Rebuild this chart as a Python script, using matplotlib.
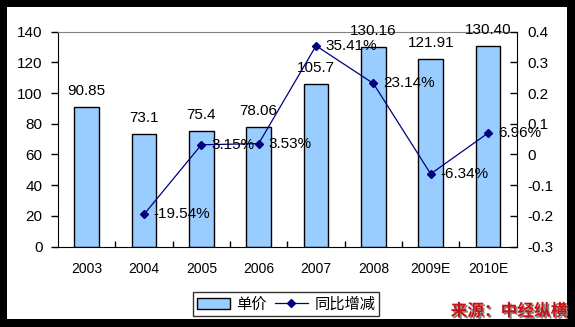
import matplotlib
matplotlib.use("Agg")
import matplotlib.pyplot as plt
import matplotlib.patheffects as pe
from matplotlib.patches import Rectangle
from matplotlib.lines import Line2D
from matplotlib.patches import Patch

plt.rcParams['font.family'] = ['Liberation Sans', 'Noto Sans CJK SC', 'DejaVu Sans']

years = ["2003", "2004", "2005", "2006", "2007", "2008", "2009E", "2010E"]
price = [90.85, 73.1, 75.4, 78.06, 105.7, 130.16, 121.91, 130.40]
price_labels = ["90.85", "73.1", "75.4", "78.06", "105.7", "130.16", "121.91", "130.40"]
growth_years = ["2004", "2005", "2006", "2007", "2008", "2009E", "2010E"]
growth = [-0.1954, 0.0315, 0.0353, 0.3541, 0.2314, -0.0634, 0.0696]
growth_labels = ["-19.54%", "3.15%", "3.53%", "35.41%", "23.14%", "-6.34%", "6.96%"]

W, H = 575, 327
fig = plt.figure(figsize=(W / 100, H / 100), dpi=100, facecolor="black")
# white panel inside the black frame
fig.patches.append(Rectangle((7 / W, 1 - 319 / H), (567 - 7) / W, (319 - 7) / H,
                             transform=fig.transFigure, facecolor="white",
                             edgecolor="none", zorder=-5))

ax = fig.add_axes([58 / W, 1 - 246.5 / H, (516.7 - 58) / W, (246.5 - 31.7) / H])
ax.set_facecolor("white")
x = list(range(len(years)))
ax.bar(x, price, width=0.43, color="#99CCFF", edgecolor="black", linewidth=1.0, zorder=2)
for xi, v, s in zip(x, price, price_labels):
    ax.annotate(s, (xi, v), xytext=(0, 6.5), textcoords="offset points",
                ha="center", va="bottom", fontsize=11, color="black", zorder=5,
                annotation_clip=False)

ax.set_xlim(-0.5, len(years) - 0.5)
ax.set_ylim(0, 140)
ax.set_yticks(range(0, 141, 20))
ax.set_xticks([i + 0.5 for i in range(len(years) - 1)])
ax.set_xticklabels([])
ax.set_xticks(x, minor=True)
ax.set_xticklabels(years, minor=True, fontsize=10)
ax.tick_params(axis="x", which="major", direction="in", length=4, width=1)
ax.tick_params(axis="x", which="minor", length=0, pad=11)
ax.tick_params(axis="y", direction="out", length=5, width=1, labelsize=11, pad=6)
ax.spines["top"].set_color("#808080")
ax.spines["right"].set_visible(False)
for s in ("left", "bottom"):
    ax.spines[s].set_color("black")

ax2 = ax.twinx()
gx = [years.index(g) for g in growth_years]
ax2.plot(gx, growth, color="#000080", linewidth=0.9, marker="D", markersize=4,
         markerfacecolor="#000080", markeredgecolor="#000080", zorder=4)
for xi, v, s in zip(gx, growth, growth_labels):
    ax2.annotate(s, (xi, v), xytext=(7, 0), textcoords="offset points",
                 ha="left", va="center", fontsize=11, color="black", zorder=5)
ax2.set_ylim(-0.3, 0.4)
ax2.set_yticks([-0.3, -0.2, -0.1, 0, 0.1, 0.2, 0.3, 0.4])
ax2.set_yticklabels(["-0.3", "-0.2", "-0.1", "0", "0.1", "0.2", "0.3", "0.4"])
ax2.tick_params(axis="y", direction="in", length=5, width=1, labelsize=11, pad=8)
ax2.spines["top"].set_visible(False)
ax2.spines["left"].set_visible(False)
ax2.spines["bottom"].set_visible(False)
ax2.spines["right"].set_color("black")

handles = [Patch(facecolor="#99CCFF", edgecolor="black", linewidth=1.0),
           Line2D([0], [0], color="#000080", linewidth=0.9, marker="D", markersize=4)]
leg = fig.legend(handles, ["单价", "同比增减"], loc="center", bbox_to_anchor=(286 / W, 1 - 304 / H),
                 ncol=2, frameon=True, fancybox=False, edgecolor="black",
                 handlelength=2.2, handletextpad=0.4, columnspacing=0.5, borderpad=0.25,
                 prop={"family": ["Noto Sans CJK SC"], "size": 11})
leg.get_frame().set_linewidth(1.0)

fig.text(567 / W, 1 - 311 / H, "来源：中经纵横", ha="right", va="center",
         fontsize=12, fontweight="bold", style="italic", color="#CC1010",
         family=["Noto Sans CJK SC"],
         path_effects=[pe.withSimplePatchShadow(offset=(1.2, -1.2), shadow_rgbFace="#777777", alpha=0.9)])

fig.savefig("out.png", dpi=100, facecolor="black")
